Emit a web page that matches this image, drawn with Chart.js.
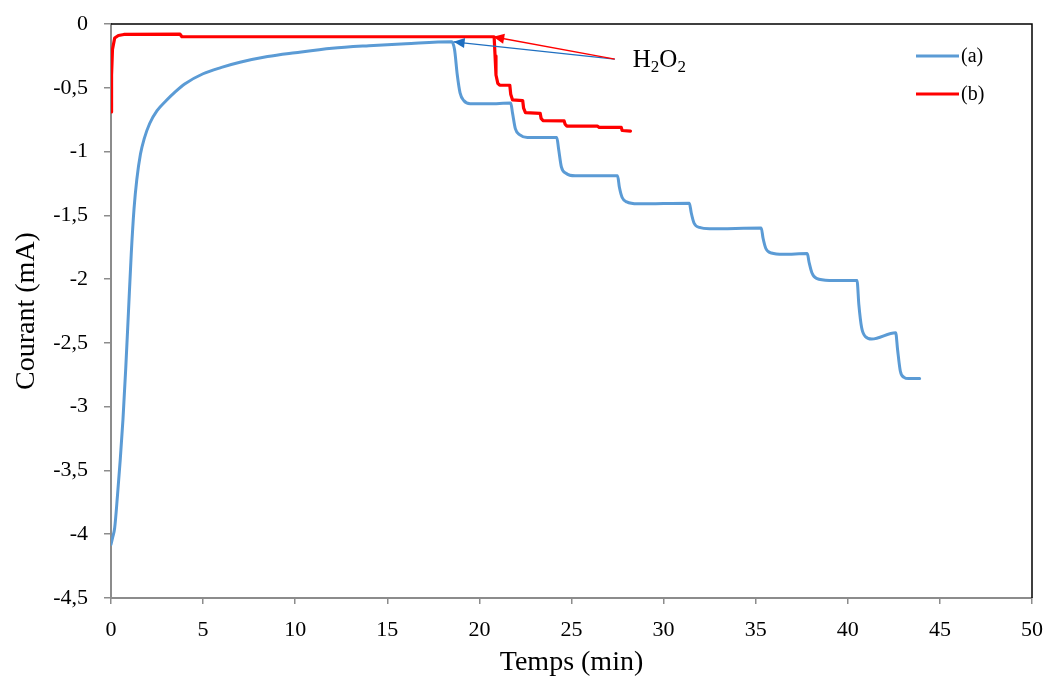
<!DOCTYPE html>
<html>
<head>
<meta charset="utf-8">
<script src="https://cdn.jsdelivr.net/npm/chart.js@4"></script>
<style>
    html, body { margin: 0; padding: 0; background: #fff; }
    #wrap { width: 1049px; height: 679px; }
</style>
</head>
<body>
<div id="wrap"><canvas id="chart" width="1049" height="679"></canvas></div>
<script>
// series (a) - blue
const blueT = [0, 0.1, 0.2, 0.35, 0.5, 0.65, 0.8, 0.95, 1.1, 1.25, 1.4, 1.6, 1.8, 2.1, 2.5, 3.0, 3.5, 4.0, 5.0, 6.0, 7.0, 8.5, 10, 12, 14, 16, 18.5,
    18.65, 18.8, 18.95, 19.15, 19.5, 20.5, 21.7,
    21.8, 21.95, 22.2, 22.6, 24.2,
    24.3, 24.45, 24.7, 25.2, 27.5,
    27.6, 27.75, 28.0, 28.6, 31.4,
    31.5, 31.65, 31.95, 32.5, 35.3,
    35.4, 35.55, 35.85, 36.5, 37.8,
    37.9, 38.05, 38.3, 39.0, 40.5,
    40.6, 40.75, 40.95, 41.3, 42.6,
    42.7, 42.85, 43.05, 43.3, 43.9];
const blueI = [-4.08, -4.02, -3.95, -3.7, -3.42, -3.1, -2.7, -2.25, -1.8, -1.45, -1.22, -1.02, -0.9, -0.78, -0.68, -0.6, -0.53, -0.47, -0.39, -0.34, -0.3, -0.255, -0.225, -0.19, -0.17, -0.155, -0.14,
    -0.2, -0.4, -0.54, -0.6, -0.625, -0.625, -0.62,
    -0.7, -0.82, -0.87, -0.89, -0.89,
    -0.98, -1.12, -1.17, -1.19, -1.19,
    -1.28, -1.36, -1.395, -1.41, -1.405,
    -1.48, -1.56, -1.595, -1.605, -1.6,
    -1.68, -1.76, -1.795, -1.805, -1.8,
    -1.87, -1.95, -1.995, -2.01, -2.01,
    -2.2, -2.38, -2.45, -2.47, -2.42,
    -2.55, -2.72, -2.77, -2.78, -2.78];

// series (b) - red
const redT = [0, 0.03, 0.08, 0.2, 0.4, 0.7, 3.75, 3.85, 10, 20.8,
    20.85, 20.9, 21.0, 21.1, 21.65,
    21.7, 21.8, 22.35,
    22.4, 22.5, 23.3,
    23.35, 23.45, 24.6,
    24.65, 24.75, 26.4, 26.5, 27.7, 27.75, 28.2];
const redI = [-0.69, -0.4, -0.2, -0.11, -0.09, -0.082, -0.08, -0.1, -0.1, -0.1,
    -0.25, -0.4, -0.465, -0.48, -0.48,
    -0.55, -0.595, -0.6,
    -0.66, -0.695, -0.7,
    -0.74, -0.757, -0.76,
    -0.785, -0.8, -0.8, -0.81, -0.81, -0.835, -0.84];

const seriesNames = ['(a)', '(b)'];
const seriesColors = ['#5B9BD5', '#FF0000'];

// H2O2 arrows: common tail and two tips (data coords)
const arrowTail = [27.35, -0.275];
const arrowTips = [[18.6, -0.14], [20.75, -0.1]];
const arrowColors = ['#1F6FC0', '#FF0000'];

const xTicks = { min: 0, max: 50, step: 5 };
const yTicks = { min: -4.5, max: 0, step: 0.5 };

function toPoints(xs, ys) {
    return xs.map((x, i) => ({ x: x, y: ys[i] }));
}

const serif = "'Liberation Serif', 'Times New Roman', serif";
const axisGray = '#8c8c8c';

const extrasPlugin = {
    id: 'extras',
    afterDraw(chart) {
        const ctx = chart.ctx;
        const a = chart.chartArea;
        const xs = chart.scales.x;
        const ys = chart.scales.y;
        ctx.save();

        // black frame on top and right
        ctx.strokeStyle = '#000';
        ctx.lineWidth = 1.5;
        ctx.beginPath();
        ctx.moveTo(a.left, a.top);
        ctx.lineTo(a.right, a.top);
        ctx.lineTo(a.right, a.bottom);
        ctx.stroke();

        // arrows
        const tx = xs.getPixelForValue(arrowTail[0]);
        const ty = ys.getPixelForValue(arrowTail[1]);
        arrowTips.forEach((tip, i) => {
            const px = xs.getPixelForValue(tip[0]);
            const py = ys.getPixelForValue(tip[1]);
            ctx.strokeStyle = arrowColors[i];
            ctx.fillStyle = arrowColors[i];
            ctx.lineWidth = 1.3;
            ctx.beginPath();
            ctx.moveTo(tx, ty);
            ctx.lineTo(px, py);
            ctx.stroke();
            const ang = Math.atan2(py - ty, px - tx);
            const len = 11, half = 5;
            ctx.beginPath();
            ctx.moveTo(px, py);
            ctx.lineTo(px - len * Math.cos(ang) + half * Math.sin(ang), py - len * Math.sin(ang) - half * Math.cos(ang));
            ctx.lineTo(px - len * Math.cos(ang) - half * Math.sin(ang), py - len * Math.sin(ang) + half * Math.cos(ang));
            ctx.closePath();
            ctx.fill();
        });

        // H2O2 label with subscripts
        ctx.fillStyle = '#000';
        ctx.textBaseline = 'alphabetic';
        let lx = tx + 18;
        const ly = ty + 8;
        const parts = [['H', 25, 0], ['2', 17, 5], ['O', 25, 0], ['2', 17, 5]];
        parts.forEach(p => {
            ctx.font = p[1] + 'px ' + serif;
            ctx.fillText(p[0], lx, ly + p[2]);
            lx += ctx.measureText(p[0]).width;
        });

        // legend
        ctx.font = '20px ' + serif;
        ctx.textBaseline = 'middle';
        seriesNames.forEach((name, i) => {
            const y = 56 + i * 38;
            ctx.strokeStyle = seriesColors[i];
            ctx.lineWidth = 3;
            ctx.beginPath();
            ctx.moveTo(916, y);
            ctx.lineTo(959, y);
            ctx.stroke();
            ctx.fillStyle = '#000';
            ctx.fillText(name, 961, y + 1);
        });

        ctx.restore();
    }
};

new Chart(document.getElementById('chart'), {
    type: 'scatter',
    data: {
        datasets: [
            {
                label: seriesNames[0],
                data: toPoints(blueT, blueI),
                showLine: true,
                borderColor: seriesColors[0],
                borderWidth: 3,
                borderJoinStyle: 'round',
                borderCapStyle: 'round',
                pointRadius: 0,
                cubicInterpolationMode: 'monotone'
            },
            {
                label: seriesNames[1],
                data: toPoints(redT, redI),
                showLine: true,
                borderColor: seriesColors[1],
                borderWidth: 3.2,
                borderJoinStyle: 'round',
                borderCapStyle: 'round',
                pointRadius: 0,
                tension: 0
            }
        ]
    },
    options: {
        responsive: false,
        animation: false,
        layout: { padding: { left: 0, top: 24, right: 17, bottom: 0 } },
        plugins: {
            legend: { display: false },
            tooltip: { enabled: false }
        },
        scales: {
            x: {
                type: 'linear',
                min: xTicks.min,
                max: xTicks.max,
                afterFit: (s) => { s.height = 81; s.paddingLeft = 0; s.paddingRight = 0; },
                ticks: {
                    stepSize: xTicks.step,
                    padding: 13,
                    color: '#000',
                    font: { family: serif, size: 22 }
                },
                grid: { drawOnChartArea: false, drawTicks: true, tickLength: 6, color: axisGray, lineWidth: 1.5 },
                border: { display: true, color: axisGray, width: 2 },
                title: {
                    display: true,
                    text: 'Temps (min)',
                    color: '#000',
                    font: { family: serif, size: 28 },
                    padding: { top: 0, bottom: 0 }
                }
            },
            y: {
                type: 'linear',
                min: yTicks.min,
                max: yTicks.max,
                afterFit: (s) => { s.width = 111; s.paddingTop = 0; s.paddingBottom = 0; },
                ticks: {
                    stepSize: yTicks.step,
                    padding: 16,
                    color: '#000',
                    font: { family: serif, size: 22 },
                    callback: (v) => String(v).replace('.', ',')
                },
                grid: { drawOnChartArea: false, drawTicks: true, tickLength: 7, color: axisGray, lineWidth: 1.5 },
                border: { display: true, color: axisGray, width: 2 },
                title: {
                    display: true,
                    text: 'Courant (mA)',
                    color: '#000',
                    font: { family: serif, size: 28 },
                    padding: { top: 10, bottom: 0 }
                }
            }
        }
    },
    plugins: [extrasPlugin]
});
</script>
</body>
</html>
